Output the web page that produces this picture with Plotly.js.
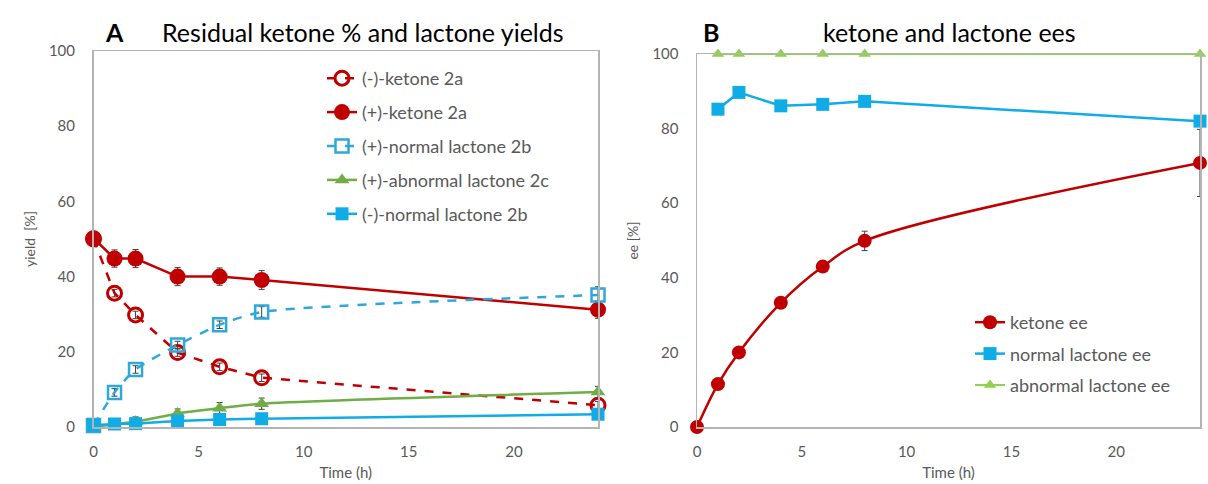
<!DOCTYPE html>
<html>
<head>
<meta charset="utf-8">
<script src="https://cdn.plot.ly/plotly-3.0.1.min.js"></script>
<style>html,body{margin:0;padding:0;background:#fff;}#chart{width:1208px;height:484px;}</style>
</head>
<body>
<div id="chart"></div>
<script>
// ---- Data ----
const timeH = [0, 1, 2, 4, 6, 8, 24];
const minusKetone = [50, 35.6, 29.8, 19.8, 16.0, 13.1, 5.8];
const minusKetoneErr = [0, 1, 1, 1, 1, 1, 1];
const plusKetone = [50.2, 44.8, 44.8, 40.0, 40.0, 39.1, 31.2];
const plusKetoneErr = [0, 2.3, 2.4, 2.4, 2.3, 2.5, 2.3];
const plusNormal = [0.4, 9.2, 15.3, 21.8, 27.2, 30.6, 35.1];
const plusNormalErr = [0, 1, 1, 1, 1, 1.4, 2.2];
const plusAbnormal = [0, 0.8, 1.4, 3.6, 5.0, 6.2, 9.3];
const plusAbnormalErr = [0, 0.5, 1.3, 1.2, 1.5, 1.5, 1.5];
const minusNormal = [0.5, 0.8, 0.9, 1.6, 2.0, 2.2, 3.4];

const timeEe = [0, 1, 2, 4, 6, 8, 24];
const ketoneEe = [0, 11.5, 20.0, 33.3, 43.0, 49.9, 70.8];
const ketoneEeErr = [0, 0, 0, 0, 0, 2.6, 9];
const timeLac = [1, 2, 4, 6, 8, 24];
const normalEe = [85.2, 89.7, 86.1, 86.5, 87.3, 82.0];
const abnormalEe = [100, 100, 100, 100, 100, 100];

const namesA = ['(-)-ketone 2a', '(+)-ketone 2a', '(+)-normal lactone 2b', '(+)-abnormal lactone 2c', '(-)-normal lactone 2b'];
const namesB = ['ketone ee', 'normal lactone ee', 'abnormal lactone ee'];
const titleA = 'Residual ketone % and lactone yields';
const titleB = 'ketone and lactone ees';

// ---- Styles ----
const RED = '#C00000', BLUE_D = '#2EA8D8', BLUE = '#10ACE6', GREEN = '#70AD47', GREEN_B = '#92D050';
const FONT = 'Lato, "Open Sans", sans-serif';
const GREY = '#595959';
const errStyle = (arr) => ({type: 'data', array: arr, visible: true, color: '#404040', thickness: 1, width: 3});

const traces = [
  {x: timeH, y: minusKetone, name: namesA[0], legendgroup: 'a1', mode: 'lines+markers', legend: 'legend', xaxis: 'x', yaxis: 'y',
   line: {color: RED, width: 2.5, dash: 'dash'}, marker: {symbol: 'circle-open', size: 14, color: RED, line: {width: 3, color: RED}},
   error_y: errStyle(minusKetoneErr), cliponaxis: false},
  {x: timeH, y: plusKetone, name: namesA[1], legendgroup: 'a2', mode: 'lines+markers', legend: 'legend', xaxis: 'x', yaxis: 'y',
   line: {color: RED, width: 2.5}, marker: {symbol: 'circle', size: 16, color: RED},
   error_y: errStyle(plusKetoneErr), cliponaxis: false},
  {x: timeH, y: plusNormal, name: namesA[2], legendgroup: 'a3', mode: 'lines+markers', legend: 'legend', xaxis: 'x', yaxis: 'y',
   line: {color: BLUE_D, width: 2.5, dash: 'dash', shape: 'spline', smoothing: 0.6}, marker: {symbol: 'square-open', size: 13, color: BLUE_D, line: {width: 2.5, color: BLUE_D}},
   error_y: errStyle(plusNormalErr), cliponaxis: false},
  {x: timeH, y: plusAbnormal, name: namesA[3], legendgroup: 'a4', mode: 'lines+markers', legend: 'legend', xaxis: 'x', yaxis: 'y',
   line: {color: GREEN, width: 2.5, shape: 'spline', smoothing: 0.6}, marker: {symbol: 'triangle-up', size: 13, color: GREEN},
   error_y: errStyle(plusAbnormalErr), cliponaxis: false},
  {x: timeH, y: minusNormal, name: namesA[4], legendgroup: 'a5', mode: 'lines+markers', legend: 'legend', xaxis: 'x', yaxis: 'y',
   line: {color: BLUE, width: 2.5, shape: 'spline', smoothing: 0.6}, marker: {symbol: 'square', size: 13, color: BLUE},
   cliponaxis: false},

  {x: timeEe, y: ketoneEe, name: namesB[0], legendgroup: 'b1', mode: 'lines+markers', legend: 'legend2', xaxis: 'x2', yaxis: 'y2',
   line: {color: RED, width: 2.5, shape: 'spline', smoothing: 1}, marker: {symbol: 'circle', size: 14, color: RED},
   error_y: errStyle(ketoneEeErr), cliponaxis: false},
  {x: timeLac, y: normalEe, name: namesB[1], legendgroup: 'b2', mode: 'lines+markers', legend: 'legend2', xaxis: 'x2', yaxis: 'y2',
   line: {color: BLUE, width: 2.5}, marker: {symbol: 'square', size: 13, color: BLUE}, cliponaxis: false},
  {x: timeLac, y: abnormalEe, name: namesB[2], legendgroup: 'b3', mode: 'lines+markers', legend: 'legend2', xaxis: 'x2', yaxis: 'y2',
   line: {color: GREEN_B, width: 2}, marker: {symbol: 'triangle-up', size: 11, color: GREEN_B}, cliponaxis: false}
];

const axisCommon = {
  range: [0, 24], showgrid: false, zeroline: false, showline: true, mirror: true,
  linecolor: '#B4B4B4', linewidth: 1.5, ticks: '', tickfont: {family: FONT, size: 15, color: GREY},
  fixedrange: true
};
const yCommon = Object.assign({}, axisCommon, {range: [0, 100], dtick: 20, tick0: 0, ticklabelstandoff: 14});
const xCommon = Object.assign({}, axisCommon, {dtick: 5, tick0: 0, ticklabelstandoff: 10});

const layout = {
  width: 1208, height: 484,
  margin: {l: 0, r: 0, t: 0, b: 0},
  paper_bgcolor: '#fff', plot_bgcolor: '#fff',
  showlegend: true,
  xaxis: Object.assign({}, xCommon, {domain: [93.5/1208, 598/1208], anchor: 'y',
    title: {text: 'Time (h)', font: {family: FONT, size: 15, color: GREY}, standoff: 9}}),
  yaxis: Object.assign({}, yCommon, {domain: [57/484, 433/484], anchor: 'x',
    title: {text: 'yield  [%]', font: {family: FONT, size: 14, color: GREY}, standoff: 10}}),
  xaxis2: Object.assign({}, xCommon, {domain: [697/1208, 1200/1208], anchor: 'y2',
    title: {text: 'Time (h)', font: {family: FONT, size: 15, color: GREY}, standoff: 9}}),
  yaxis2: Object.assign({}, yCommon, {domain: [57/484, 430/484], anchor: 'x2',
    title: {text: 'ee [%]', font: {family: FONT, size: 14, color: GREY}, standoff: 10}}),
  legend: {x: 322/1208, y: 1 - 60/484, xanchor: 'left', yanchor: 'top', bgcolor: 'rgba(0,0,0,0)',
    font: {family: FONT, size: 18, color: GREY}, traceorder: 'grouped', tracegroupgap: 7.5, itemwidth: 30},
  legend2: {x: 970/1208, y: 1 - 304/484, xanchor: 'left', yanchor: 'top', bgcolor: 'rgba(0,0,0,0)',
    font: {family: FONT, size: 18, color: GREY}, traceorder: 'grouped', tracegroupgap: 5, itemwidth: 30},
  annotations: [
    {text: '<b>A</b>', x: 114/1208, y: 1 - 32/484, xref: 'paper', yref: 'paper', showarrow: false,
     font: {family: FONT, size: 25, color: '#000'}, xanchor: 'center', yanchor: 'middle'},
    {text: titleA, x: 160/1208, y: 1 - 32/484, xref: 'paper', yref: 'paper', showarrow: false,
     font: {family: FONT, size: 25, color: '#000'}, xanchor: 'left', yanchor: 'middle'},
    {text: '<b>B</b>', x: 711/1208, y: 1 - 32/484, xref: 'paper', yref: 'paper', showarrow: false,
     font: {family: FONT, size: 25, color: '#000'}, xanchor: 'center', yanchor: 'middle'},
    {text: titleB, x: 821/1208, y: 1 - 32/484, xref: 'paper', yref: 'paper', showarrow: false,
     font: {family: FONT, size: 25, color: '#000'}, xanchor: 'left', yanchor: 'middle'}
  ]
};

Plotly.newPlot('chart', traces, layout, {displayModeBar: false, staticPlot: true});
</script>
</body>
</html>
